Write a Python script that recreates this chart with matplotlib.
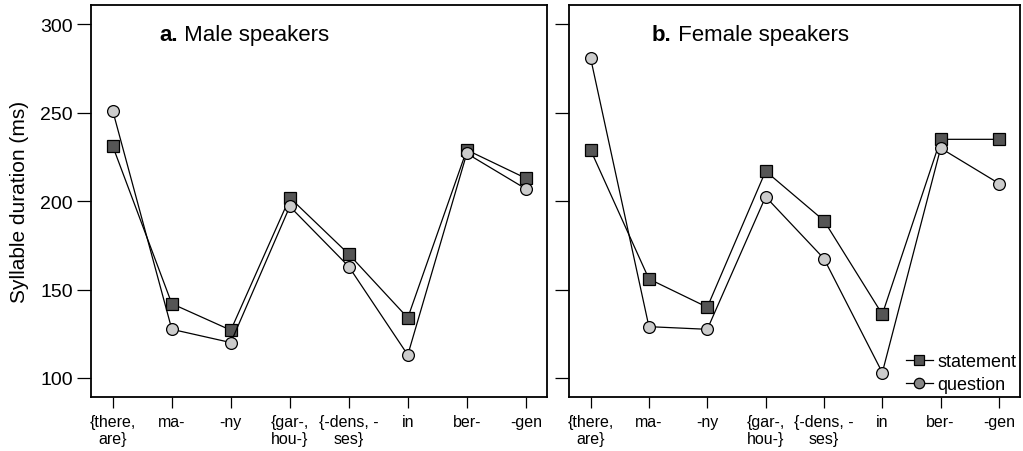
import matplotlib
matplotlib.use("Agg")
import matplotlib.pyplot as plt
from matplotlib.lines import Line2D

plt.rcParams['font.family'] = ['Liberation Sans', 'DejaVu Sans']

syllables = ["{there,\nare}", "ma-", "-ny", "{gar-,\nhou-}", "{-dens, -\nses}", "in", "ber-", "-gen"]
male_statement = [231, 142, 127, 202, 170, 134, 229, 213]
male_question = [251, 127.5, 120, 197, 163, 113, 227, 207]
female_statement = [229, 156, 140, 217, 189, 136, 235, 235]
female_question = [281, 129, 127.5, 202.5, 167.5, 103, 230, 210]
yticks = [100, 150, 200, 250, 300]

fig = plt.figure(figsize=(10.23, 4.52), dpi=100)
W, H = 1023, 452
axL = fig.add_axes([91 / W, 1 - 398 / H, (547 - 91) / W, (398 - 6) / H])
axR = fig.add_axes([569 / W, 1 - 398 / H, (1020 - 569) / W, (398 - 6) / H])

sq_face = "#555555"
ci_face = "#cccccc"

x = list(range(len(syllables)))
for ax, st, qu, letter, name, tx in [(axL, male_statement, male_question, "a.", " Male speakers", 0.151),
                                     (axR, female_statement, female_question, "b.", " Female speakers", 0.184)]:
    ax.plot(x, st, color="black", lw=0.9, marker="s", ms=8, mfc=sq_face, mec="black", mew=0.9, zorder=3)
    ax.plot(x, qu, color="black", lw=0.9, marker="o", ms=8.5, mfc=ci_face, mec="black", mew=0.9, zorder=3)
    ax.set_xlim(-0.37, 7.36)
    ax.set_ylim(89.2, 311)
    ax.set_yticks(yticks)
    ax.set_xticks(x)
    ax.set_xticklabels(syllables, fontsize=11.5, linespacing=1.2)
    ax.tick_params(axis="y", direction="out", length=10, width=0.9, labelsize=14, pad=3)
    ax.tick_params(axis="x", direction="out", length=8, width=0.9, pad=4)
    for s in ax.spines.values():
        s.set_linewidth(1.3)
    t1 = ax.text(tx, 0.911, letter, transform=ax.transAxes,
                 fontsize=16, fontweight="bold", va="baseline")
    ax.annotate(name, xy=(1, 0), xycoords=t1, fontsize=16, va="bottom", ha="left")

axR.set_yticklabels([])
axL.set_ylabel("Syllable duration (ms)", fontsize=15, labelpad=8)

handles = [Line2D([0], [0], color="black", lw=0.9, marker="s", ms=7, mfc=sq_face, mec="black", mew=0.9),
           Line2D([0], [0], color="black", lw=0.9, marker="o", ms=7.5, mfc="#888888", mec="black", mew=0.9)]
axR.legend(handles, ["statement", "question"], loc="lower right", frameon=False, fontsize=13,
           handlelength=1.5, handletextpad=0.25, borderaxespad=0.0, borderpad=0.2, labelspacing=0.35,
           bbox_to_anchor=(1.0, 0.0))

fig.savefig("out.png", dpi=100)
